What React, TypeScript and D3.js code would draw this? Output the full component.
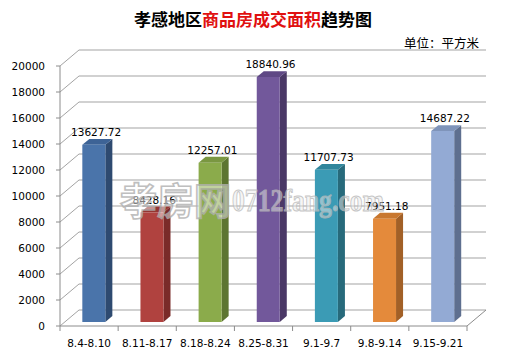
import React from "react";
import * as d3 from "d3";

const categories = ["8.4-8.10", "8.11-8.17", "8.18-8.24", "8.25-8.31", "9.1-9.7", "9.8-9.14", "9.15-9.21"];
const values = [13627.72, 8428.16, 12257.01, 18840.96, 11707.73, 7951.18, 14687.22];
const valueLabels = ["13627.72", "8428.16", "12257.01", "18840.96", "11707.73", "7951.18", "14687.22"];
const yTicks = [0, 2000, 4000, 6000, 8000, 10000, 12000, 14000, 16000, 18000, 20000];
const barColors = [
  { front: "#4a74aa", side: "#2e4a70", top: "#3d6396" },
  { front: "#b0423f", side: "#7a2b29", top: "#953532" },
  { front: "#8bab4b", side: "#5d7531", top: "#7a9741" },
  { front: "#72589b", side: "#4a3866", top: "#5f4885" },
  { front: "#3b9bb5", side: "#276a7b", top: "#30869c" },
  { front: "#e48a3b", side: "#a26027", top: "#c8772f" },
  { front: "#93aad4", side: "#5e6f8f", top: "#7f94ba" },
];

export default function App() {
  const W = 506, H = 361;
  const left = 60, right = 467, bottom = 326, top = 66;
  const DX = 19, DY = -16;
  const y = d3.scaleLinear().domain([0, 20000]).range([bottom, top]);
  const x = d3.scaleBand().domain(categories).range([left, right]);
  const bw = 23;
  const d0 = 0.25, d1 = 0.62;
  const font = "'DejaVu Sans', Verdana, sans-serif";
  const grid = "#a3a3a3";

  return (
    <svg width={W} height={H} style={{ position: "absolute", left: 0, top: 0, background: "#fff" }}>
      <rect x={0} y={0} width={W} height={H} fill="#fff" />
      {/* title */}
      <text x={253} y={26} textAnchor="middle" fontFamily="'Noto Sans CJK SC', sans-serif" fontWeight="bold" fontSize={17} fill="#000">
        孝感地区<tspan fill="#e01010">商品房成交面积</tspan>趋势图
      </text>
      <text x={479} y={48} textAnchor="end" fontFamily="'Noto Sans CJK SC', sans-serif" fontSize={12.5} fill="#000">
        单位：平方米
      </text>
      {/* grid lines */}
      {yTicks.map((t) => {
        const yy = y(t);
        return (
          <g key={t}>
            <line x1={left} y1={yy} x2={left + DX} y2={yy + DY} stroke={grid} strokeWidth={1} />
            <line x1={left + DX} y1={yy + DY} x2={right + DX} y2={yy + DY} stroke={grid} strokeWidth={1} />
          </g>
        );
      })}
      {/* floor */}
      <line x1={left} y1={bottom} x2={right} y2={bottom} stroke="#8c8c8c" />
      <line x1={right} y1={bottom} x2={right + DX} y2={bottom + DY} stroke="#8c8c8c" />
      {/* y axis */}
      <line x1={left} y1={top} x2={left} y2={bottom} stroke="#8c8c8c" />
      {yTicks.map((t) => (
        <g key={"yt" + t}>
          <line x1={left - 4} y1={y(t)} x2={left} y2={y(t)} stroke="#8c8c8c" />
          <text x={45} y={y(t) + 4} textAnchor="end" fontFamily={font} fontSize={10.5} fill="#000">
            {t}
          </text>
        </g>
      ))}
      {/* x ticks */}
      {categories.map((c, i) => (
        <line key={"xt" + i} x1={x(c)!} y1={bottom} x2={x(c)!} y2={bottom + 5} stroke="#8c8c8c" />
      ))}
      <line x1={right} y1={bottom} x2={right} y2={bottom + 5} stroke="#8c8c8c" />
      {categories.map((c, i) => (
        <text key={"xl" + i} x={x(c)! + x.bandwidth() / 2} y={347} textAnchor="middle" fontFamily={font} fontSize={10.5} fill="#000">
          {c}
        </text>
      ))}
      {/* bars */}
      {categories.map((c, i) => {
        const cx = x(c)! + x.bandwidth() / 2;
        const fx = cx + DX * d0 - bw / 2;
        const fyShift = DY * d0;
        const ddx = DX * (d1 - d0), ddy = DY * (d1 - d0);
        const y0 = y(0) + fyShift;
        const y1 = y(values[i]) + fyShift;
        const col = barColors[i];
        const front = `M${fx},${y1}L${fx + bw},${y1}L${fx + bw},${y0}L${fx},${y0}Z`;
        const side = `M${fx + bw},${y1}L${fx + bw + ddx},${y1 + ddy}L${fx + bw + ddx},${y0 + ddy}L${fx + bw},${y0}Z`;
        const topP = `M${fx},${y1}L${fx + ddx},${y1 + ddy}L${fx + bw + ddx},${y1 + ddy}L${fx + bw},${y1}Z`;
        return (
          <g key={"b" + i}>
            <path d={side} fill={col.side} />
            <path d={topP} fill={col.top} />
            <path d={front} fill={col.front} />
          </g>
        );
      })}
      {/* value labels */}
      {categories.map((c, i) => {
        const cx = x(c)! + x.bandwidth() / 2 + 7;
        const ty = y(values[i]) + DY * d1 - 3;
        return (
          <text key={"vl" + i} x={cx} y={ty} textAnchor="middle" fontFamily={font} fontSize={10.5} fill="#000">
            {valueLabels[i]}
          </text>
        );
      })}
      {/* watermark */}
      <g opacity={0.8}>
        <text x={120} y={215} fontFamily="'Noto Sans CJK SC', sans-serif" fontWeight="bold" fontSize={37} fill="#ffffff" fillOpacity={0.6} stroke="#b0b0b0" strokeWidth={1.6}>
          孝房网
        </text>
        <text x={232} y={211} fontFamily="'Liberation Serif', serif" fontWeight="bold" fontSize={32} textLength={152} lengthAdjust="spacingAndGlyphs" fill="#ececec" fillOpacity={0.65} stroke="#b8b8b8" strokeWidth={1}>
          0712fang.com
        </text>
      </g>
    </svg>
  );
}
